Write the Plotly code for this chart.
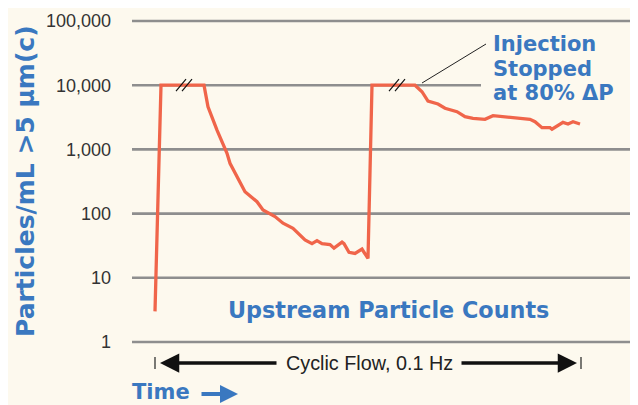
import math
import plotly.graph_objects as go

# ---- data (time in arbitrary units, counts per mL) ----
time_units = [23, 29, 72, 76, 85, 95, 98, 105, 113, 125,
              131, 143, 151, 161, 173, 180, 185, 190, 198, 202,
              210, 212, 217, 223, 230, 232, 236, 240, 283, 290,
              296, 306, 313, 325, 333, 341, 353, 361, 378, 398,
              403, 410, 418, 420, 431, 436, 441, 448]
particle_counts = [3, 10000, 10000, 4620, 2000, 870, 607, 376, 219, 153,
                   114, 90, 71, 59, 39, 34, 38, 34, 33, 29,
                   36, 34, 25, 24, 28, 25, 20, 10000, 10000, 7920,
                   5670, 5090, 4370, 3870, 3230, 3050, 2940, 3350, 3160, 2940,
                   2700, 2180, 2180, 2060, 2640, 2490, 2700, 2490]
tick_values = [1, 10, 100, 1000, 10000, 100000]
tick_labels = ["1", "10", "100", "1,000", "10,000", "100,000"]
note_lines = ["Injection", "Stopped", "at 80% ΔP"]
break_times = [52, 265]          # where the "//" break marks sit
cyclic_start, cyclic_end = 23, 449

BG = "#FDF9EE"
BLUE = "#3A78C0"
LINE = "#F0654A"
GRID = "#8E8E8E"
FONT = "Liberation Sans, Arial, sans-serif"
BOLD = "DejaVu Sans, sans-serif"

X_MAX = 506
PLOT_H = 321.0

def pfrac(v):
    return math.log10(v) / 5.0

def py(pix):
    # page pixel row (reference) -> paper fraction of the plot area
    return (342 - pix) / PLOT_H

fig = go.Figure()
fig.add_trace(go.Scatter(x=time_units, y=particle_counts, mode="lines",
                         line=dict(color=LINE, width=3.3), hoverinfo="skip"))

shapes = []
for v in tick_values:
    x1 = 1.0 if v != 10000 else (481 - 132) / X_MAX
    shapes.append(dict(type="line", xref="paper", yref="paper", x0=0, x1=x1,
                       y0=pfrac(v), y1=pfrac(v), layer="below",
                       line=dict(color=GRID, width=2.6)))

# break marks "//"
for bt in break_times:
    for dx in (-3, 3):
        shapes.append(dict(type="line", xref="x", yref="paper",
                           x0=bt + dx - 5, x1=bt + dx + 5,
                           y0=pfrac(10000) - 6 / PLOT_H,
                           y1=pfrac(10000) + 6 / PLOT_H,
                           line=dict(color="#111111", width=1.2)))

# leader line to annotation
shapes.append(dict(type="line", xref="x", yref="paper",
                   x0=290, x1=354, y0=py(83), y1=py(44),
                   line=dict(color="#222222", width=1)))

# end ticks of the cyclic flow arrow
for xt in (cyclic_start, cyclic_end):
    shapes.append(dict(type="line", xref="x", yref="paper", x0=xt, x1=xt,
                       y0=py(357), y1=py(369),
                       line=dict(color="#222222", width=1.2)))

arrow_y = py(363)
annotations = [
    dict(x=cyclic_start + 5, y=arrow_y, xref="x", yref="paper",
         ax=146, ay=0, axref="x", ayref="pixel", text="",
         showarrow=True, arrowhead=2, arrowsize=1.1, arrowwidth=3.5,
         arrowcolor="#111111"),
    dict(x=cyclic_end - 4, y=arrow_y, xref="x", yref="paper",
         ax=328, ay=0, axref="x", ayref="pixel", text="",
         showarrow=True, arrowhead=2, arrowsize=1.1, arrowwidth=3.5,
         arrowcolor="#111111"),
    dict(x=237, y=arrow_y, xref="x", yref="paper", yanchor="middle",
         xanchor="center", text="Cyclic Flow, 0.1 Hz", showarrow=False,
         font=dict(family=FONT, size=19.8, color="#222222")),
    dict(x=256, y=py(310), xref="x", yref="paper", yanchor="middle",
         xanchor="center", text="<b>Upstream Particle Counts</b>", showarrow=False,
         font=dict(family=BOLD, size=22.3, color=BLUE)),
    dict(x=-2 / X_MAX, y=py(392), xref="paper", yref="paper", yanchor="middle",
         xanchor="left", text="<b>Time</b>", showarrow=False,
         font=dict(family=BOLD, size=21, color=BLUE)),
    dict(x=106, y=py(394), xref="x", yref="paper",
         ax=68, ay=0, axref="x", ayref="pixel", text="",
         showarrow=True, arrowhead=2, arrowsize=0.9, arrowwidth=4,
         arrowcolor=BLUE),
    dict(x=(25 - 132) / X_MAX, y=py(181), xref="paper", yref="paper",
         xanchor="center", yanchor="middle",
         text="<b>Particles/mL >5 µm(c)</b>", textangle=-90, showarrow=False,
         font=dict(family=BOLD, size=25, color=BLUE)),
]
for line_text, row in zip(note_lines, [44, 69, 93]):
    annotations.append(dict(x=359, y=py(row), xref="x", yref="paper",
                            xanchor="left", yanchor="middle",
                            text="<b>" + line_text + "</b>",
                            showarrow=False,
                            font=dict(family=BOLD, size=21, color=BLUE)))

# the page body adds an 8px offset, so the figure is 8px smaller than the window
fig.update_layout(
    width=630, height=397,
    margin=dict(l=124, r=0, t=13, b=63),
    paper_bgcolor=BG, plot_bgcolor=BG,
    showlegend=False,
    shapes=shapes, annotations=annotations,
    xaxis=dict(range=[0, X_MAX], visible=False, fixedrange=True),
    yaxis=dict(type="log", range=[0, 5], tickvals=tick_values, ticktext=tick_labels,
               showgrid=False, zeroline=False, showline=False, ticks="",
               ticklabelstandoff=20, automargin=False,
               tickfont=dict(family=FONT, size=18, color="#333333")),
)

fig.write_html("out.html")
